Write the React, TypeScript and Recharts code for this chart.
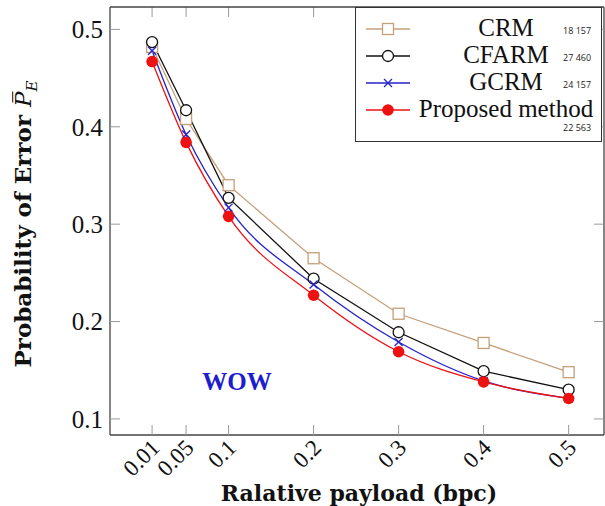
import React from "react";
import { LineChart, Line, XAxis, YAxis, ReferenceLine } from "recharts";

// payload (bpc) on the x axis, error probability on the y axis
const payloads = [0.01, 0.05, 0.1, 0.2, 0.3, 0.4, 0.5];
const crm = [0.482, 0.408, 0.34, 0.265, 0.208, 0.178, 0.148];
const cfarm = [0.487, 0.417, 0.327, 0.244, 0.189, 0.149, 0.13];
const gcrm = [0.478, 0.392, 0.317, 0.238, 0.179, 0.139, 0.121];
const proposed = [0.467, 0.384, 0.308, 0.227, 0.169, 0.138, 0.121];

const yTicks = [0.1, 0.2, 0.3, 0.4, 0.5];
const xTickLabels = ["0.01", "0.05", "0.1", "0.2", "0.3", "0.4", "0.5"];
const legendNotes = ["18 157", "27 460", "24 157", "22 563"];

const FONT = '"Liberation Serif", "DejaVu Serif", serif';
const TITLE_FONT = '"DejaVu Serif", serif';
const TICK_LEN = 10;
const X_DOMAIN = [-0.0395, 0.5416];
const Y_DOMAIN = [0.0835, 0.523];
// top-frame tick length in y units (plot is ~972px per 1.0)
const TOP_TICK = 0.0103;

const data = payloads.map((x, i) => ({
    x,
    crm: crm[i],
    cfarm: cfarm[i],
    gcrm: gcrm[i],
    proposed: proposed[i],
}));

const series = [
    { key: "crm", name: "CRM", color: "#c4a07a", marker: "square", smooth: false },
    { key: "cfarm", name: "CFARM", color: "#111111", marker: "circle", smooth: false },
    { key: "gcrm", name: "GCRM", color: "#2323c8", marker: "cross", smooth: true },
    { key: "proposed", name: "Proposed method", color: "#ee1111", marker: "dot", smooth: true },
];

function Marker({ kind, cx, cy, color }: { kind: string; cx: number; cy: number; color: string }) {
    if (kind === "square")
        return <rect x={cx - 5.5} y={cy - 5.5} width={11} height={11} fill="#fff" stroke={color} strokeWidth={1.3} />;
    if (kind === "circle") return <circle cx={cx} cy={cy} r={5.5} fill="#fff" stroke={color} strokeWidth={1.3} />;
    if (kind === "cross")
        return (
            <g stroke={color} strokeWidth={1.3}>
                <line x1={cx - 4} y1={cy - 4} x2={cx + 4} y2={cy + 4} />
                <line x1={cx - 4} y1={cy + 4} x2={cx + 4} y2={cy - 4} />
            </g>
        );
    return <circle cx={cx} cy={cy} r={5.8} fill={color} stroke="none" />;
}

const XTickBottom = (props: any) => {
    const { x, y, payload } = props;
    const label = xTickLabels[payloads.indexOf(payload.value)] ?? String(payload.value);
    return (
        <g>
            <line x1={x} x2={x} y1={y} y2={y - TICK_LEN} stroke="#999" strokeWidth={1} />
            <text
                transform={`translate(${x + 9},${y + 14}) rotate(-45)`}
                textAnchor="end"
                fontFamily={FONT}
                fontSize={23}
                fill="#111"
            >
                {label}
            </text>
        </g>
    );
};

const YTickLeft = (props: any) => {
    const { x, y, payload } = props;
    return (
        <g>
            <line x1={x} x2={x + TICK_LEN} y1={y} y2={y} stroke="#999" strokeWidth={1} />
            <text x={x - 7} y={y} dy="0.35em" textAnchor="end" fontFamily={FONT} fontSize={25} fill="#111">
                {payload.value.toFixed(1)}
            </text>
        </g>
    );
};

const YTickRight = (props: any) => {
    const { x, y } = props;
    return <line x1={x} x2={x - TICK_LEN} y1={y} y2={y} stroke="#999" strokeWidth={1} />;
};

function LegendBox() {
    return (
        <div
            style={{
                position: "absolute",
                left: 355,
                top: 7,
                width: 247,
                height: 135,
                border: "1.3px solid #333",
                background: "#fff",
                boxSizing: "border-box",
                fontFamily: FONT,
            }}
        >
            {series.map((s, i) => (
                <div key={s.key} style={{ position: "absolute", left: 0, top: 7 + i * 27, width: "100%", height: 26 }}>
                    <svg width={50} height={26} style={{ position: "absolute", left: 8, top: 0 }}>
                        <line x1={2} x2={46} y1={14} y2={14} stroke={s.color} strokeWidth={1.3} />
                        <Marker kind={s.marker} cx={24} cy={14} color={s.color} />
                    </svg>
                    <div
                        style={{
                            position: "absolute",
                            left: 58,
                            width: 184,
                            top: 0,
                            textAlign: "center",
                            fontSize: 25,
                            lineHeight: "26px",
                            color: "#111",
                        }}
                    >
                        {s.name}
                    </div>
                    <div
                        style={{
                            position: "absolute",
                            left: 207,
                            top: i === 3 ? 25 : 9,
                            fontFamily: '"Open Sans", sans-serif',
                            fontSize: 9,
                            color: "#222",
                        }}
                    >
                        {legendNotes[i]}
                    </div>
                </div>
            ))}
        </div>
    );
}

const frame = { stroke: "#444", strokeWidth: 1.3 };

export default function App() {
    return (
        <div style={{ position: "absolute", left: 0, top: 0, width: 605, height: 506, background: "#fff" }}>
            <LineChart width={605} height={506} data={data} margin={{ top: 0, right: 0, bottom: 0, left: 0 }}>
                <XAxis
                    dataKey="x"
                    type="number"
                    domain={X_DOMAIN}
                    allowDataOverflow
                    ticks={payloads}
                    height={71}
                    tickSize={0}
                    tickMargin={0}
                    tickLine={false}
                    axisLine={frame}
                    tick={<XTickBottom />}
                    interval={0}
                />
                <XAxis
                    xAxisId="top"
                    dataKey="x"
                    orientation="top"
                    type="number"
                    domain={X_DOMAIN}
                    allowDataOverflow
                    height={7}
                    tickLine={false}
                    axisLine={frame}
                    tick={false}
                />
                <YAxis
                    type="number"
                    domain={Y_DOMAIN}
                    allowDataOverflow
                    ticks={yTicks}
                    width={110}
                    tickSize={0}
                    tickMargin={0}
                    tickLine={false}
                    axisLine={frame}
                    tick={<YTickLeft />}
                    interval={0}
                />
                <YAxis
                    yAxisId="right"
                    orientation="right"
                    type="number"
                    domain={Y_DOMAIN}
                    allowDataOverflow
                    ticks={yTicks}
                    width={1}
                    tickSize={0}
                    tickMargin={0}
                    tickLine={false}
                    axisLine={frame}
                    tick={<YTickRight />}
                    interval={0}
                />
                {payloads.map((v) => (
                    <ReferenceLine
                        key={`top-${v}`}
                        segment={[
                            { x: v, y: Y_DOMAIN[1] },
                            { x: v, y: Y_DOMAIN[1] - TOP_TICK },
                        ]}
                        stroke="#999"
                        strokeWidth={1}
                        ifOverflow="visible"
                    />
                ))}
                {series.map((s) => (
                    <Line
                        key={s.key}
                        dataKey={s.key}
                        name={s.name}
                        type={s.smooth ? "monotone" : "linear"}
                        stroke={s.color}
                        strokeWidth={1.3}
                        isAnimationActive={false}
                        dot={(p: any) => <Marker key={`${s.key}-${p.index}`} kind={s.marker} cx={p.cx} cy={p.cy} color={s.color} />}
                        activeDot={false}
                    />
                ))}
            </LineChart>

            <LegendBox />

            <div
                style={{
                    position: "absolute",
                    left: 237,
                    top: 382,
                    transform: "translate(-50%, -50%)",
                    fontFamily: FONT,
                    fontWeight: "bold",
                    fontSize: 25,
                    color: "#1c1cd0",
                }}
            >
                WOW
            </div>

            <div
                style={{
                    position: "absolute",
                    left: 25,
                    top: 224,
                    transform: "translate(-50%, -50%) rotate(-90deg)",
                    whiteSpace: "nowrap",
                    fontFamily: TITLE_FONT,
                    fontWeight: "bold",
                    fontSize: 23,
                    color: "#111",
                }}
            >
                Probability of Error{" "}
                <span style={{ fontStyle: "italic", fontWeight: "normal", position: "relative" }}>
                    <span style={{ position: "absolute", left: 4, right: 0, top: 2, borderTop: "1.3px solid #111" }} />
                    P
                </span>
                <sub style={{ fontStyle: "italic", fontWeight: "normal", fontSize: 15 }}>E</sub>
            </div>

            <div
                style={{
                    position: "absolute",
                    left: 359,
                    top: 493,
                    transform: "translate(-50%, -50%)",
                    whiteSpace: "nowrap",
                    fontFamily: TITLE_FONT,
                    fontWeight: "bold",
                    fontSize: 22,
                    color: "#111",
                }}
            >
                Ralative payload (bpc)
            </div>
        </div>
    );
}
